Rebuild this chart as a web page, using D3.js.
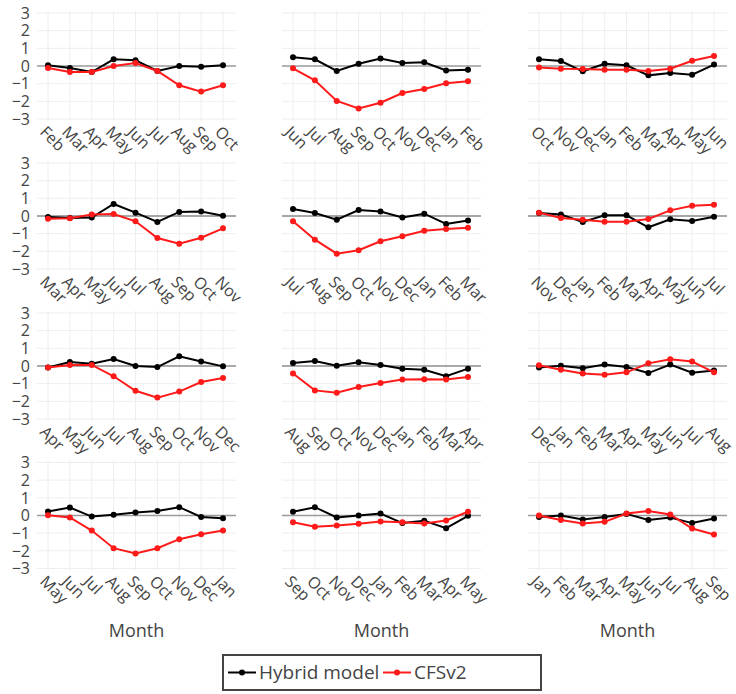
<!DOCTYPE html>
<html lang="en">
<head>
<meta charset="UTF-8">
<title>Hybrid model vs CFSv2</title>
<script src="https://cdn.jsdelivr.net/npm/d3@7"></script>
<style>
  body { margin: 0; background: #fff; }
  svg { font-family: "Open Sans", sans-serif; }
</style>
</head>
<body>
<div id="chart"></div>
<script>
// one entry per panel, row by row
const panelMonths = [
  ["Feb","Mar","Apr","May","Jun","Jul","Aug","Sep","Oct"],
  ["Jun","Jul","Aug","Sep","Oct","Nov","Dec","Jan","Feb"],
  ["Oct","Nov","Dec","Jan","Feb","Mar","Apr","May","Jun"],
  ["Mar","Apr","May","Jun","Jul","Aug","Sep","Oct","Nov"],
  ["Jul","Aug","Sep","Oct","Nov","Dec","Jan","Feb","Mar"],
  ["Nov","Dec","Jan","Feb","Mar","Apr","May","Jun","Jul"],
  ["Apr","May","Jun","Jul","Aug","Sep","Oct","Nov","Dec"],
  ["Aug","Sep","Oct","Nov","Dec","Jan","Feb","Mar","Apr"],
  ["Dec","Jan","Feb","Mar","Apr","May","Jun","Jul","Aug"],
  ["May","Jun","Jul","Aug","Sep","Oct","Nov","Dec","Jan"],
  ["Sep","Oct","Nov","Dec","Jan","Feb","Mar","Apr","May"],
  ["Jan","Feb","Mar","Apr","May","Jun","Jul","Aug","Sep"]
];
const hybrid = [
  [0.04, -0.11, -0.34, 0.38, 0.32, -0.28, 0.0, -0.04, 0.04],
  [0.49, 0.38, -0.28, 0.13, 0.42, 0.17, 0.21, -0.25, -0.21],
  [0.38, 0.28, -0.30, 0.13, 0.04, -0.53, -0.40, -0.49, 0.08],
  [-0.06, -0.11, -0.09, 0.68, 0.19, -0.34, 0.23, 0.26, 0.02],
  [0.40, 0.17, -0.21, 0.34, 0.25, -0.08, 0.13, -0.45, -0.26],
  [0.17, 0.08, -0.34, 0.04, 0.04, -0.64, -0.19, -0.28, -0.04],
  [-0.08, 0.23, 0.13, 0.40, 0.0, -0.06, 0.55, 0.25, -0.02],
  [0.17, 0.28, 0.02, 0.21, 0.06, -0.15, -0.21, -0.58, -0.15],
  [-0.09, 0.02, -0.13, 0.08, -0.06, -0.40, 0.08, -0.38, -0.26],
  [0.23, 0.45, -0.06, 0.04, 0.17, 0.26, 0.47, -0.08, -0.15],
  [0.21, 0.47, -0.11, 0.0, 0.11, -0.43, -0.30, -0.72, -0.02],
  [-0.09, 0.0, -0.23, -0.08, 0.09, -0.25, -0.11, -0.43, -0.17]
];
const cfsv2 = [
  [-0.11, -0.34, -0.34, 0.0, 0.17, -0.28, -1.09, -1.45, -1.09],
  [-0.13, -0.81, -1.98, -2.40, -2.08, -1.53, -1.30, -0.98, -0.87],
  [-0.09, -0.15, -0.17, -0.21, -0.21, -0.28, -0.15, 0.30, 0.57],
  [-0.15, -0.13, 0.09, 0.11, -0.30, -1.25, -1.57, -1.23, -0.70],
  [-0.30, -1.34, -2.13, -1.94, -1.43, -1.15, -0.83, -0.74, -0.66],
  [0.19, -0.11, -0.21, -0.32, -0.32, -0.17, 0.32, 0.58, 0.64],
  [-0.09, 0.06, 0.06, -0.58, -1.40, -1.79, -1.45, -0.91, -0.68],
  [-0.42, -1.38, -1.51, -1.19, -0.96, -0.77, -0.75, -0.77, -0.62],
  [0.04, -0.21, -0.42, -0.49, -0.36, 0.15, 0.38, 0.25, -0.36],
  [0.02, -0.11, -0.85, -1.85, -2.15, -1.85, -1.34, -1.06, -0.85],
  [-0.38, -0.64, -0.57, -0.47, -0.34, -0.38, -0.45, -0.28, 0.21],
  [0.0, -0.25, -0.45, -0.36, 0.11, 0.26, 0.06, -0.74, -1.08]
];
const yTicks = [-3, -2, -1, 0, 1, 2, 3];
const seriesNames = ["Hybrid model", "CFSv2"];
const seriesColors = ["#000000", "#ff1a1a"];
const xTitle = "Month";

const width = 736, height = 694;
const colLeft = [37, 282, 528];
const plotW = 199;
const rowTop = [0, 150, 300, 449.5];
const zeroStyle = [["#9a9a9a", 1.5], ["#8a8a8a", 1.3], ["#555", 1], ["#9a9a9a", 1.5]];

const svg = d3.select("#chart").append("svg")
  .attr("width", width)
  .attr("height", height);

panelMonths.forEach((months, p) => {
  const row = Math.floor(p / 3), col = p % 3;
  const left = colLeft[col], top = rowTop[row];

  const x = d3.scalePoint()
    .domain(months)
    .range([left + 11, left + 186]);
  const y = d3.scaleLinear()
    .domain([-3, 3])
    .range([top + 119, top + 13]);

  const g = svg.append("g");

  // grid
  g.selectAll(".vgrid").data(months).enter().append("line")
    .attr("x1", d => x(d)).attr("x2", d => x(d))
    .attr("y1", top + 11).attr("y2", top + 121)
    .attr("stroke", "#eeeeee").attr("stroke-width", 1);
  g.selectAll(".hgrid").data(yTicks.filter(t => t !== 0)).enter().append("line")
    .attr("x1", left).attr("x2", left + plotW)
    .attr("y1", d => y(d)).attr("y2", d => y(d))
    .attr("stroke", "#eeeeee").attr("stroke-width", 1);
  g.append("line")
    .attr("x1", left).attr("x2", left + plotW)
    .attr("y1", y(0)).attr("y2", y(0))
    .attr("stroke", zeroStyle[row][0]).attr("stroke-width", zeroStyle[row][1]);

  // y tick labels on first column only
  if (col === 0) {
    g.selectAll(".ytick").data(yTicks).enter().append("text")
      .attr("x", 30).attr("y", d => y(d))
      .attr("dy", "0.36em")
      .attr("text-anchor", "end")
      .attr("font-size", 16)
      .attr("fill", "#444")
      .text(d => d < 0 ? "\u2212" + Math.abs(d) : d);
  }

  // x tick labels, rotated
  g.selectAll(".xtick").data(months).enter().append("text")
    .attr("transform", d => `translate(${x(d) - 5},${top + 129}) rotate(45)`)
    .attr("dy", "0.35em")
    .attr("text-anchor", "start")
    .attr("font-size", 16)
    .attr("fill", "#444")
    .text(d => d);

  if (row === 3) {
    g.append("text")
      .attr("x", left + plotW / 2).attr("y", 637)
      .attr("text-anchor", "middle")
      .attr("font-size", 18)
      .attr("fill", "#444")
      .text(xTitle);
  }

  // series
  [hybrid[p], cfsv2[p]].forEach((vals, s) => {
    const pts = months.map((m, i) => [x(m), y(vals[i])]);
    g.append("path")
      .attr("d", d3.line()(pts))
      .attr("fill", "none")
      .attr("stroke", seriesColors[s])
      .attr("stroke-width", 2);
    g.selectAll(null).data(pts).enter().append("circle")
      .attr("cx", d => d[0]).attr("cy", d => d[1])
      .attr("r", 3)
      .attr("fill", seriesColors[s]);
  });
});

// legend
const legend = svg.append("g").attr("transform", "translate(222,654)");
legend.append("rect")
  .attr("x", 1).attr("y", 1)
  .attr("width", 318).attr("height", 35)
  .attr("fill", "#fff")
  .attr("stroke", "#444").attr("stroke-width", 2);
const itemX = [6, 161];
seriesNames.forEach((name, s) => {
  const item = legend.append("g").attr("transform", `translate(${itemX[s]},18.5)`);
  item.append("line")
    .attr("x1", 0).attr("x2", 28).attr("y1", 0).attr("y2", 0)
    .attr("stroke", seriesColors[s]).attr("stroke-width", 2);
  item.append("circle").attr("cx", 14).attr("cy", 0).attr("r", 3)
    .attr("fill", seriesColors[s]);
  item.append("text")
    .attr("x", 31).attr("dy", "0.35em")
    .attr("font-size", 19)
    .attr("fill", "#444")
    .text(name);
});
</script>
</body>
</html>
